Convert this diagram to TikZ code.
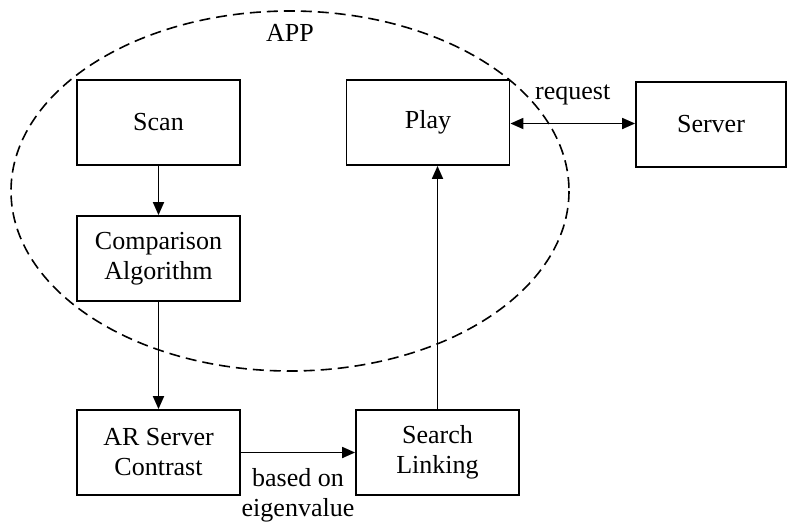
\documentclass[tikz,border=0pt]{standalone}
\usepackage{fontspec}
\setmainfont{Liberation Serif}
\usepackage{tikz}
\usetikzlibrary{arrows.meta, positioning, calc}
\tikzset{
  txt/.style={font=\fontsize{26}{30}\selectfont, text=black},
  blockbox/.style={draw=black, line width=1.8pt, minimum width=163pt, minimum height=85pt,
                   inner sep=2pt, align=center, txt},
  flow/.style={-{Triangle[length=13pt, width=11pt]}, line width=1.8pt},
  bothflow/.style={{Triangle[length=13pt, width=11pt]}-{Triangle[length=13pt, width=11pt]}, line width=1.8pt},
}

\begin{document}
\begin{tikzpicture}[x=1pt, y=-1pt,
  appline/.style={line width=1.6pt, dash pattern=on 11pt off 6pt}]
  \useasboundingbox (0,0) rectangle (787,523);
  % the APP boundary
  \draw[appline] (290,191) ellipse [x radius=279, y radius=180];
  \node[txt] (applbl) at (290,33) {APP};
  % blocks
  \node[blockbox] (scan) at (158.5,122.5) {Scan};
  \node[blockbox] (play) at (428,122.5) {Play};
  \node[blockbox, minimum width=150pt] (server) at (711,124.5) {Server};
  \node[blockbox] (compare) at (158.5,258.5) {Comparison\\Algorithm};
  \node[blockbox] (arserver) at (158.5,452.5) {AR Server\\Contrast};
  \node[blockbox] (search) at (437.5,452.5) {Search\\Linking};
  % connectors
  \draw[flow] (scan) -- (compare);
  \draw[flow] (compare) -- (arserver);
  \draw[flow] (arserver) -- node[txt, below=12pt, align=center] {based on\\eigenvalue} (search);
  \draw[flow] (search.north) -- (search.north |- play.south);
  \draw[bothflow] (play.east |- 0,123.5) -- node[txt, above=14pt] {request} (server.west |- 0,123.5);
\end{tikzpicture}
\end{document}
